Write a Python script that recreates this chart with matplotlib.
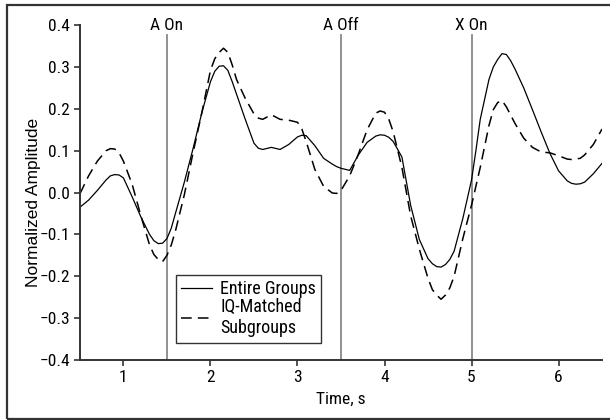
import matplotlib
matplotlib.use('Agg')
import matplotlib.pyplot as plt
from matplotlib import font_manager
from matplotlib.patches import Rectangle

# prefer a narrow sans face if one is installed
names = sorted({f.name for f in font_manager.fontManager.ttflist})
preferred = ['Liberation Sans Narrow', 'Arial Narrow', 'Roboto Condensed']
narrow = [n for n in preferred if n in names]
narrow += [n for n in names if ('Narrow' in n or 'Condensed' in n)
           and 'Mono' not in n and 'Serif' not in n and n not in narrow]
plt.rcParams['font.family'] = narrow[:1] + ['Liberation Sans', 'DejaVu Sans']
base_size = 12.5 if narrow else 10.5

# time axis (s) and the two averaged waveforms
time = [0.5, 0.6, 0.7, 0.8, 0.85, 0.9, 0.95, 1.0, 1.1, 1.2, 1.3, 1.35, 1.4, 1.45, 1.5, 1.55,
        1.6, 1.7, 1.8, 1.9, 2.0, 2.05, 2.1, 2.15, 2.2, 2.25, 2.3, 2.4, 2.5, 2.55, 2.6, 2.7,
        2.8, 2.9, 3.0, 3.05, 3.1, 3.2, 3.3, 3.4, 3.45, 3.5, 3.6, 3.7, 3.8, 3.9, 3.95, 4.0,
        4.05, 4.1, 4.2, 4.3, 4.4, 4.5, 4.55, 4.6, 4.65, 4.7, 4.75, 4.8, 4.9, 5.0, 5.05, 5.1,
        5.2, 5.25, 5.3, 5.35, 5.4, 5.45, 5.5, 5.6, 5.7, 5.8, 5.9, 6.0, 6.1, 6.15, 6.2, 6.25,
        6.3, 6.4, 6.5]

entire = [-0.035, -0.018, 0.005, 0.030, 0.040, 0.043, 0.042, 0.035, -0.010, -0.058, -0.100,
          -0.115, -0.122, -0.121, -0.110, -0.085, -0.048, 0.025, 0.105, 0.190, 0.265, 0.290,
          0.302, 0.303, 0.292, 0.265, 0.235, 0.175, 0.118, 0.106, 0.103, 0.108, 0.103, 0.115,
          0.133, 0.137, 0.136, 0.112, 0.082, 0.068, 0.062, 0.058, 0.053, 0.090, 0.120, 0.135,
          0.138, 0.137, 0.132, 0.122, 0.085, -0.030, -0.112, -0.158, -0.170, -0.177, -0.178,
          -0.172, -0.160, -0.140, -0.062, 0.030, 0.100, 0.175, 0.270, 0.300, 0.318, 0.332,
          0.330, 0.315, 0.295, 0.250, 0.198, 0.145, 0.094, 0.052, 0.028, 0.022, 0.020, 0.021,
          0.025, 0.045, 0.070]

iq_matched = [-0.003, 0.040, 0.075, 0.100, 0.105, 0.104, 0.095, 0.075, 0.020, -0.055, -0.125,
              -0.148, -0.160, -0.165, -0.150, -0.125, -0.090, -0.005, 0.095, 0.190, 0.292,
              0.320, 0.335, 0.345, 0.335, 0.305, 0.270, 0.225, 0.188, 0.178, 0.175, 0.186,
              0.175, 0.173, 0.168, 0.152, 0.122, 0.055, 0.015, -0.001, -0.002, 0.005, 0.040,
              0.092, 0.150, 0.190, 0.195, 0.192, 0.175, 0.145, 0.060, -0.055, -0.135, -0.205,
              -0.232, -0.245, -0.255, -0.245, -0.228, -0.200, -0.110, -0.030, 0.015, 0.060,
              0.160, 0.198, 0.215, 0.220, 0.205, 0.185, 0.165, 0.130, 0.108, 0.097, 0.095,
              0.088, 0.080, 0.079, 0.080, 0.082, 0.090, 0.115, 0.152]

events = [1.5, 3.5, 5.0]
event_labels = ['A On', 'A Off', 'X On']

fig = plt.figure(figsize=(6.1, 4.2), dpi=100)
ax = fig.add_axes([0.131, 0.143, 0.856, 0.797])

for x, lab in zip(events, event_labels):
    ax.plot([x, x], [-0.4, 0.376], color='#888888', lw=1.3, zorder=1)
    ax.text(x, 0.4, lab, ha='center', va='center', fontsize=base_size)

ax.plot(time, entire, color='black', lw=0.9, label='Entire Groups')
ax.plot(time, iq_matched, color='black', lw=1.1, dashes=(7, 4), label='IQ-Matched\nSubgroups')

ax.set_xlim(0.5, 6.5)
ax.set_ylim(-0.4, 0.4)
ax.set_xticks([1, 2, 3, 4, 5, 6])
ax.set_yticks([-0.4, -0.3, -0.2, -0.1, 0.0, 0.1, 0.2, 0.3, 0.4])
ax.set_yticklabels(['\u22120.4', '\u22120.3', '\u22120.2', '\u22120.1', '0.0', '0.1', '0.2', '0.3', '0.4'])
ax.spines['top'].set_visible(False)
ax.spines['right'].set_visible(False)
for s in ['left', 'bottom']:
    ax.spines[s].set_color('#333333')
    ax.spines[s].set_linewidth(1.4)
ax.tick_params(length=4, width=1.2, color='#333333', labelsize=base_size, pad=3)
ax.set_xlabel('Time, s', fontsize=base_size, labelpad=5)
ax.set_ylabel('Normalized Amplitude', fontsize=12.5,
              family=['Liberation Sans', 'DejaVu Sans'])
ax.yaxis.set_label_coords(-0.075, 0.47)

leg = ax.legend(loc='lower left', bbox_to_anchor=(0.184, 0.052), fancybox=False,
                edgecolor='#333333', framealpha=1, handlelength=1.7, fontsize=base_size + 0.5,
                borderpad=0.3, labelspacing=0.0, handletextpad=0.45, borderaxespad=0)
leg.get_frame().set_linewidth(1.0)

# outer border
fig.patches.append(Rectangle((7 / 610, 1 / 420), 1.0, 414 / 420, transform=fig.transFigure,
                             fill=False, edgecolor='#333333', lw=1.6))

plt.savefig('out.png', dpi=100)
